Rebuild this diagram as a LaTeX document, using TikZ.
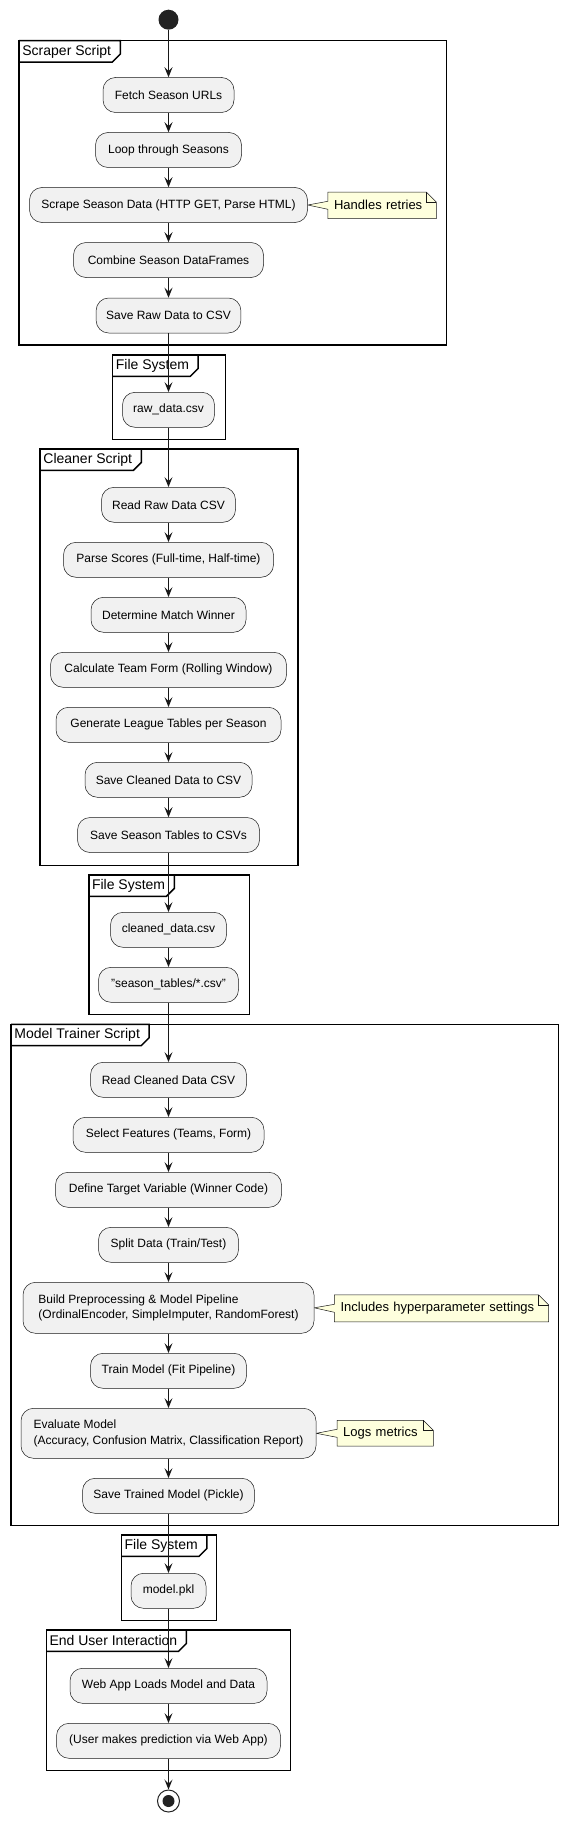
\documentclass[tikz,border=0pt]{standalone}
\usepackage{fontspec}
\setmainfont{Liberation Sans}
\usetikzlibrary{arrows.meta,calc,backgrounds}
\definecolor{lineC}{HTML}{181818}
\definecolor{actFill}{HTML}{F1F1F1}
\definecolor{noteFill}{HTML}{FEFFDD}
\definecolor{startC}{HTML}{222222}
\tikzset{
  act/.style={draw=lineC, fill=actFill, line width=0.5pt, rounded corners=12.5pt, minimum height=35pt, inner xsep=10pt, inner ysep=0pt, font=\fontsize{12pt}{15.4pt}\selectfont, text=black},
  flow/.style={draw=lineC, line width=1pt, -{Stealth[length=10pt,width=8pt,inset=4pt]}},
  fline/.style={draw=black, line width=1.5pt},
  ftitle/.style={anchor=north west, inner xsep=3pt, inner ysep=0pt, minimum height=21pt, font=\fontsize{14pt}{16pt}\selectfont},
  notebox/.style={anchor=west, inner xsep=6pt, inner ysep=0pt, align=left, font=\fontsize{13pt}{15pt}\selectfont},
  noteshape/.style={draw=lineC, fill=noteFill, line width=0.5pt},
}
\newcommand{\umlframe}[6]{%
  \draw[fline] (#2,#3) rectangle (#4,#5);
  \node[ftitle] (#1) at (#2,#3) {#6};
  \draw[fline] (#1.north west) -- ($(#1.north east)+(6pt,0)$) -- ($(#1.south east)+(6pt,8pt)$) -- ($(#1.south east)+(-2pt,0)$) -- (#1.south west);
}
\newcommand{\umlnote}[2]{% note name, activity name
  \begin{scope}[on background layer]
  \draw[noteshape] (#1.north west) -- ([xshift=-10pt]#1.north east) -- ([yshift=-10pt]#1.north east) -- (#1.south east) -- (#1.south west) -- ([yshift=-4pt]#1.west) -- (#2.east) -- ([yshift=4pt]#1.west) -- cycle;
  \draw[noteshape, fill=none] ([xshift=-10pt]#1.north east) |- ([yshift=-10pt]#1.north east);
  \end{scope}
}
\begin{document}
\begin{tikzpicture}[x=1pt, y=-1pt]
\useasboundingbox (0,0) rectangle (566,1822);
% frames
\umlframe{fScraper}{19.2}{40.7}{446.4}{345}{Scraper Script}
\umlframe{fFs1}{112.7}{355}{225.4}{439.3}{File System}
\umlframe{fCleaner}{40.2}{449}{297.8}{865.7}{Cleaner Script}
\umlframe{fFs2}{88.8}{875}{249.3}{1014.3}{File System}
\umlframe{fModel}{11.2}{1024.3}{558.3}{1525.7}{Model Trainer Script}
\umlframe{fFs3}{121.4}{1535}{216.3}{1620.3}{File System}
\umlframe{fEnd}{46.4}{1630}{290.6}{1770.7}{End User Interaction}

% start
\node[circle, fill=startC, minimum size=20pt, inner sep=0pt] (start) at (168.5,19.7) {};

% scraper
\node[act, minimum width=131pt] (fetch) at (168.5,95) {Fetch Season URLs};
\node[act, minimum width=146pt] (loop) at (168.5,150) {Loop through Seasons};
\node[act, minimum width=278pt] (scrape) at (168.5,205) {Scrape Season Data (HTTP GET, Parse HTML)};
\node[act, minimum width=190pt] (combine) at (168.5,260) {Combine Season DataFrames};
\node[act, minimum width=144pt] (saveraw) at (168.5,315.5) {Save Raw Data to CSV};
\node[notebox, text width=96pt, minimum height=26pt] (n1) at (327.9,205.3) {Handles retries};
\umlnote{n1}{scrape}

% fs1
\node[act, minimum width=92pt] (raw) at (168.5,409.8) {raw\_data.csv};

% cleaner
\node[act, minimum width=134pt] (readraw) at (168.5,504.8) {Read Raw Data CSV};
\node[act, minimum width=210pt] (parse) at (168.5,559.8) {Parse Scores (Full-time, Half-time)};
\node[act, minimum width=155pt] (winner) at (168.5,614.8) {Determine Match Winner};
\node[act, minimum width=236pt] (form) at (168.5,669.8) {Calculate Team Form (Rolling Window)};
\node[act, minimum width=225pt] (league) at (168.5,724.8) {Generate League Tables per Season};
\node[act, minimum width=167pt] (savecl) at (168.5,779.8) {Save Cleaned Data to CSV};
\node[act, minimum width=182pt] (saveseas) at (168.5,835) {Save Season Tables to CSVs};

% fs2
\node[act, minimum width=116pt] (cleaned) at (168.5,929.8) {cleaned\_data.csv};
\node[act, minimum width=140pt] (seastab) at (168.5,984.8) {"season\_tables/*.csv"};

% model trainer
\node[act, minimum width=156pt] (readcl) at (168.5,1079.8) {Read Cleaned Data CSV};
\node[act, minimum width=191pt] (select) at (168.5,1134.8) {Select Features (Teams, Form)};
\node[act, minimum width=226pt] (target) at (168.5,1189.8) {Define Target Variable (Winner Code)};
\node[act, minimum width=140pt] (split) at (168.5,1244.8) {Split Data (Train/Test)};
\node[act, minimum width=291pt, minimum height=51pt, align=left] (build) at (168.5,1307.8) {Build Preprocessing \& Model Pipeline\\(OrdinalEncoder, SimpleImputer, RandomForest)};
\node[act, minimum width=156pt] (train) at (168.5,1370.8) {Train Model (Fit Pipeline)};
\node[act, minimum width=295pt, minimum height=50pt, align=left] (eval) at (168.5,1433.3) {Evaluate Model\\(Accuracy, Confusion Matrix, Classification Report)};
\node[act, minimum width=172pt] (savemod) at (168.5,1495.8) {Save Trained Model (Pickle)};
\node[notebox, text width=201.8pt, minimum height=26.7pt] (n2) at (334.4,1308.3) {Includes hyperparameter settings};
\umlnote{n2}{build}
\node[notebox, text width=84pt, minimum height=25.3pt] (n3) at (337,1433.3) {Logs metrics};
\umlnote{n3}{eval}

% fs3
\node[act, minimum width=75pt] (pkl) at (168.5,1590.8) {model.pkl};

% end user
\node[act, minimum width=197pt] (webapp) at (168.5,1685.8) {Web App Loads Model and Data};
\node[act, minimum width=224pt] (user) at (168.5,1740.8) {(User makes prediction via Web App)};

% stop
\node[circle, draw=startC, line width=1pt, fill=white, minimum size=22pt, inner sep=0pt] (stop) at (168.5,1801) {};
\node[circle, fill=startC, minimum size=12pt, inner sep=0pt] (stopdot) at (stop.center) {};

% flows
\draw[flow] (start) -- (fetch);
\draw[flow] (fetch) -- (loop);
\draw[flow] (loop) -- (scrape);
\draw[flow] (scrape) -- (combine);
\draw[flow] (combine) -- (saveraw);
\draw[flow] (saveraw) -- (raw);
\draw[flow] (raw) -- (readraw);
\draw[flow] (readraw) -- (parse);
\draw[flow] (parse) -- (winner);
\draw[flow] (winner) -- (form);
\draw[flow] (form) -- (league);
\draw[flow] (league) -- (savecl);
\draw[flow] (savecl) -- (saveseas);
\draw[flow] (saveseas) -- (cleaned);
\draw[flow] (cleaned) -- (seastab);
\draw[flow] (seastab) -- (readcl);
\draw[flow] (readcl) -- (select);
\draw[flow] (select) -- (target);
\draw[flow] (target) -- (split);
\draw[flow] (split) -- (build);
\draw[flow] (build) -- (train);
\draw[flow] (train) -- (eval);
\draw[flow] (eval) -- (savemod);
\draw[flow] (savemod) -- (pkl);
\draw[flow] (pkl) -- (webapp);
\draw[flow] (webapp) -- (user);
\draw[flow] (user) -- (stop.north);
\end{tikzpicture}
\end{document}
